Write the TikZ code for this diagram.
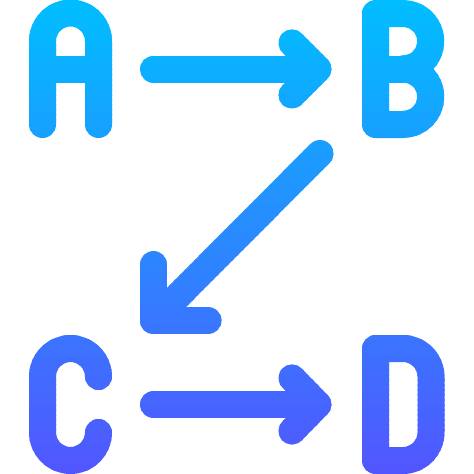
\documentclass[tikz,border=0pt]{standalone}
\definecolor{topc}{RGB}{0,190,255}
\definecolor{botc}{RGB}{82,86,255}
\tikzset{iconline/.style={line width=27pt, line cap=round, line join=round}}
\newcommand{\iconstrokes}{%
% A
\draw (42.5,124.5) -- (42.5,41) arc[start angle=180, end angle=360, radius=28] -- (98.5,124.5);
\draw (42.5,69) -- (98.5,69);
% arrow A -> B
\draw (153.5,69) -- (316,69);
\draw (292,43) -- (318,69) -- (292,95);
% B
\draw (375.5,13.5) -- (403,13.5) arc[start angle=-90, end angle=90, radius=27.75]
      arc[start angle=-90, end angle=90, radius=27.75] -- (375.5,124.5) -- cycle;
\draw (375.5,69) -- (403,69);
% arrow B -> C
\draw (320,153.5) -- (153.5,320.5);
\draw (153.5,264.5) -- (153.5,320.5) -- (208,320.5);
% C
\draw (98.5,376.5) arc[start angle=0, end angle=-180, radius=28] -- (42.5,432.5)
      arc[start angle=180, end angle=0, radius=28];
% arrow C -> D
\draw (153.5,404.5) -- (316,404.5);
\draw (292,378) -- (318,404.5) -- (292,431);
% D
\draw (375.5,348.5) -- (403,348.5) arc[start angle=-90, end angle=0, radius=28]
      -- (431,432.5) arc[start angle=0, end angle=90, radius=28] -- (375.5,460.5) -- cycle;
}
\begin{document}
\begin{tikzpicture}[x=1pt, y=-1pt]
\useasboundingbox (0,0) rectangle (474,474);
\fill[white] (0,0) rectangle (474,474);
\foreach \i in {0,...,94}{
  \pgfmathsetmacro{\ya}{\i*5-0.4}
  \pgfmathsetmacro{\yb}{\i*5+5.4}
  \pgfmathsetmacro{\pc}{(\i*5+2.5)/474*100}
  \begin{scope}
    \clip (-1,\ya) rectangle (475,\yb);
    \begin{scope}[iconline, draw=botc!\pc!topc]
      \iconstrokes
    \end{scope}
  \end{scope}
}
\end{tikzpicture}
\end{document}
